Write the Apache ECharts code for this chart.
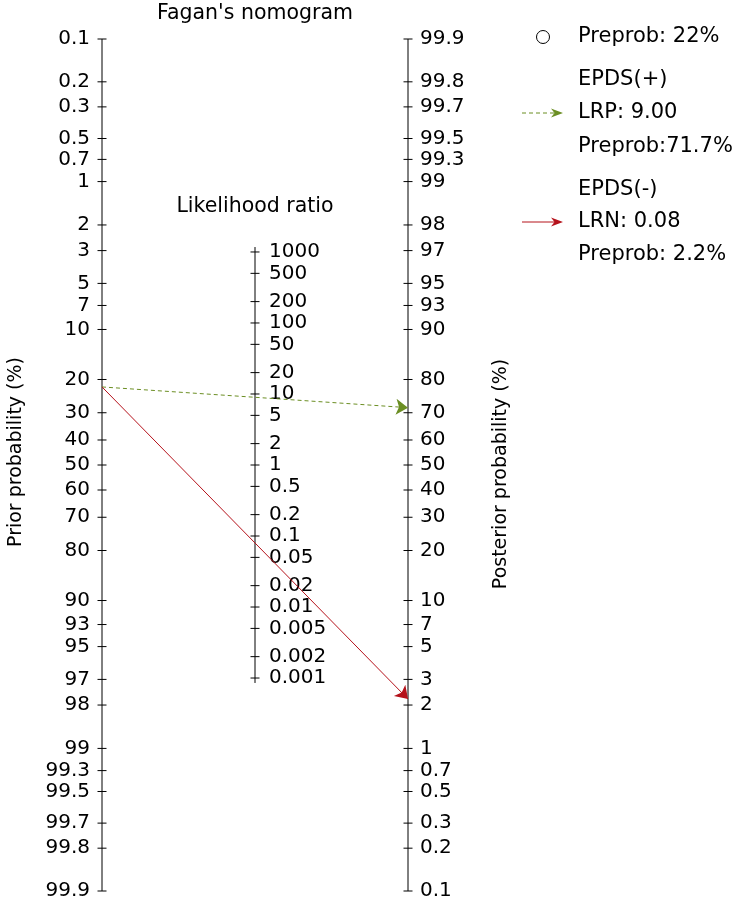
<!DOCTYPE html>
<html>
<head>
<meta charset="utf-8">
<script src="https://cdn.jsdelivr.net/npm/echarts@6/dist/echarts.min.js"></script>
<style>html,body{margin:0;padding:0;background:#fff}#c{width:735px;height:905px}</style>
</head>
<body>
<div id="c"></div>
<script>
// ---- data ----
var priorTicks = [0.1,0.2,0.3,0.5,0.7,1,2,3,5,7,10,20,30,40,50,60,70,80,90,93,95,97,98,99,99.3,99.5,99.7,99.8,99.9];
var postTicks  = [99.9,99.8,99.7,99.5,99.3,99,98,97,95,93,90,80,70,60,50,40,30,20,10,7,5,3,2,1,0.7,0.5,0.3,0.2,0.1];
var lrTicks    = [1000,500,200,100,50,20,10,5,2,1,0.5,0.2,0.1,0.05,0.02,0.01,0.005,0.002,0.001];
var priorProb  = 22;
var lrPos      = 9.00;
var postPos    = 71.7;
var lrNeg      = 0.08;
var postNeg    = 2.2;

var FONT = 'DejaVu Sans';
function logit(p){ p = p/100; return Math.log(p/(1-p)); }
var L = Math.log(999);

// axis positions on x: 0 = prior, 1 = LR, 2 = posterior
var tickData = [];
priorTicks.forEach(function(v){ tickData.push([0, logit(v), String(v)]); });
lrTicks.forEach(function(v){ tickData.push([1, -Math.log(v)/2, String(v)]); });
postTicks.forEach(function(v){ tickData.push([2, -logit(v), String(v)]); });

var chart = echarts.init(document.getElementById('c'));
var f = function(s){ return s + 'px "' + FONT + '"'; };
var option = {
  animation: false,
  grid: {left: 102, right: 327, top: 39, bottom: 14},
  xAxis: {type: 'value', min: 0, max: 2, show: false},
  yAxis: {type: 'value', min: -L, max: L, inverse: true, show: false},
  series: [
    {
      type: 'line', silent: true, symbol: 'none', clip: false,
      lineStyle: {color: '#000', width: 1},
      data: [[0, -L], [0, L]]
    },
    {
      type: 'line', silent: true, symbol: 'none', clip: false,
      lineStyle: {color: '#000', width: 1},
      data: [[2, -L], [2, L]]
    },
    {
      type: 'line', silent: true, symbol: 'none', clip: false,
      lineStyle: {color: '#000', width: 1},
      data: [[1, -Math.log(lrTicks[0])/2 - 0.08], [1, -Math.log(lrTicks[lrTicks.length-1])/2 + 0.08]]
    },
    {
      type: 'custom', silent: true, clip: false,
      data: tickData,
      encode: {x: 0, y: 1},
      renderItem: function(params, api){
        var xv = api.value(0);
        var p = api.coord([xv, api.value(1)]);
        var label = tickData[params.dataIndex][2];
        var left = xv === 0;
        var off = xv === 1 ? 14 : 12;
        return {
          type: 'group',
          children: [
            {type: 'line', shape: {x1: p[0]-4.5, y1: p[1], x2: p[0]+4.5, y2: p[1]},
             style: {stroke: '#000', lineWidth: 1}},
            {type: 'text', x: left ? p[0]-off : p[0]+off, y: p[1],
             style: {text: label, fill: '#000', font: f(20),
                     align: left ? 'right' : 'left', textAlign: left ? 'right' : 'left',
                     verticalAlign: 'middle', textVerticalAlign: 'middle'}}
          ]
        };
      }
    },
    {
      type: 'lines', coordinateSystem: 'cartesian2d', silent: true, z: 5,
      symbol: ['none', 'arrow'], symbolSize: 12,
      lineStyle: {color: '#6b8e23', width: 1, type: [4, 3], opacity: 1},
      data: [{coords: [[0, logit(priorProb)], [2, -logit(postPos)]]}]
    },
    {
      type: 'lines', coordinateSystem: 'cartesian2d', silent: true, z: 5,
      symbol: ['none', 'arrow'], symbolSize: 12,
      lineStyle: {color: '#b5121b', width: 1, type: 'solid', opacity: 1},
      data: [{coords: [[0, logit(priorProb)], [2, -logit(postNeg)]]}]
    }
  ],
  graphic: [
    {type: 'text', x: 255, y: 14, style: {text: "Fagan's nomogram", font: f(20.5), fill: '#000', align: 'center', verticalAlign: 'middle'}},
    {type: 'text', x: 255, y: 207, style: {text: 'Likelihood ratio', font: f(20.5), fill: '#000', align: 'center', verticalAlign: 'middle'}},
    {type: 'text', x: 16, y: 452, rotation: Math.PI/2, style: {text: 'Prior probability (%)', font: f(19), fill: '#000', align: 'center', verticalAlign: 'middle'}},
    {type: 'text', x: 501, y: 474, rotation: Math.PI/2, style: {text: 'Posterior probability (%)', font: f(19), fill: '#000', align: 'center', verticalAlign: 'middle'}},
    // legend
    {type: 'circle', shape: {cx: 543, cy: 37, r: 6.5}, style: {fill: '#fff', stroke: '#000', lineWidth: 1}},
    {type: 'text', x: 578, y: 37, style: {text: 'Preprob: ' + priorProb + '%', font: f(21), fill: '#000', verticalAlign: 'middle'}},
    {type: 'text', x: 578, y: 80, style: {text: 'EPDS(+)', font: f(21), fill: '#000', verticalAlign: 'middle'}},
    {type: 'text', x: 578, y: 113, style: {text: 'LRP: ' + lrPos.toFixed(2), font: f(21), fill: '#000', verticalAlign: 'middle'}},
    {type: 'text', x: 578, y: 147, style: {text: 'Preprob:' + postPos + '%', font: f(21), fill: '#000', verticalAlign: 'middle'}},
    {type: 'text', x: 578, y: 190, style: {text: 'EPDS(-)', font: f(21), fill: '#000', verticalAlign: 'middle'}},
    {type: 'text', x: 578, y: 222, style: {text: 'LRN: ' + lrNeg.toFixed(2), font: f(21), fill: '#000', verticalAlign: 'middle'}},
    {type: 'text', x: 578, y: 255, style: {text: 'Preprob: ' + postNeg + '%', font: f(21), fill: '#000', verticalAlign: 'middle'}},
    {type: 'line', shape: {x1: 522, y1: 113, x2: 556, y2: 113}, style: {stroke: '#6b8e23', lineWidth: 1, lineDash: [4, 3]}},
    {type: 'polygon', shape: {points: [[563,113],[551,108.5],[554.5,113],[551,117.5]]}, style: {fill: '#6b8e23'}},
    {type: 'line', shape: {x1: 522, y1: 222, x2: 556, y2: 222}, style: {stroke: '#b5121b', lineWidth: 1}},
    {type: 'polygon', shape: {points: [[563,222],[551,217.5],[554.5,222],[551,226.5]]}, style: {fill: '#b5121b'}}
  ]
};
chart.setOption(option);
</script>
</body>
</html>
